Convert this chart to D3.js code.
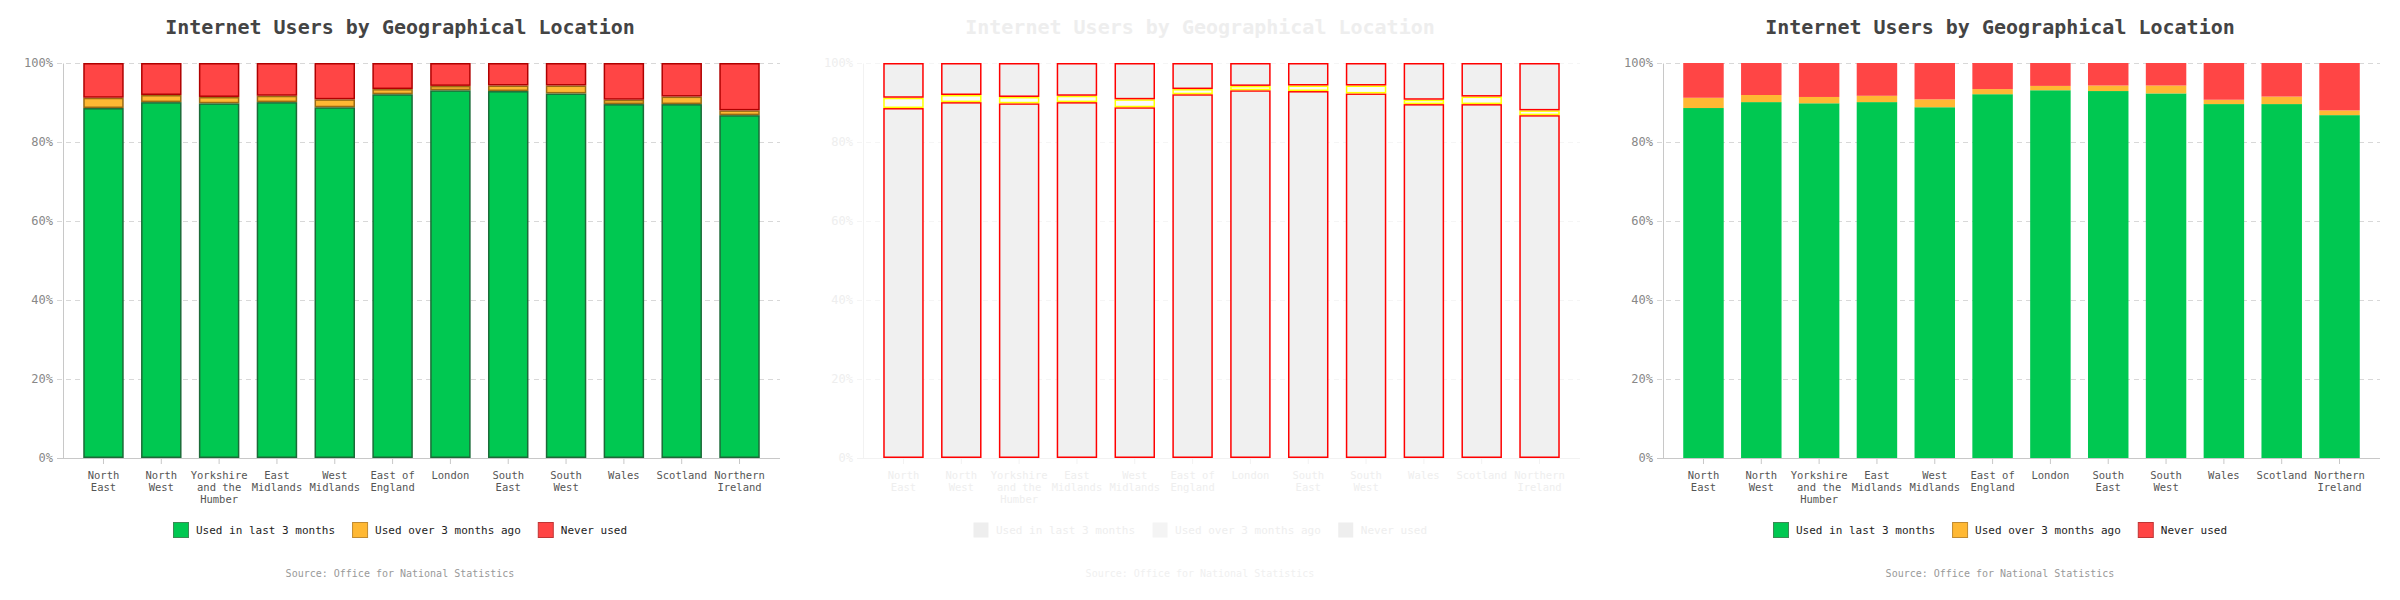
<!DOCTYPE html>
<html>
<head>
<meta charset="utf-8">
<script src="https://cdn.jsdelivr.net/npm/d3@7"></script>
<style>
html,body{margin:0;padding:0;background:#fff;}
svg{display:block;}
text{font-family:"DejaVu Sans Mono","Liberation Mono",monospace;}
</style>
</head>
<body>
<svg id="chart" width="2400" height="600"></svg>
<script>
const title = "Internet Users by Geographical Location";
const regions = ["North East","North West","Yorkshire and the Humber","East Midlands","West Midlands","East of England","London","South East","South West","Wales","Scotland","Northern Ireland"];
const regionLines = [["North","East"],["North","West"],["Yorkshire","and the","Humber"],["East","Midlands"],["West","Midlands"],["East of","England"],["London"],["South","East"],["South","West"],["Wales"],["Scotland"],["Northern","Ireland"]];
const seriesNames = ["Used in last 3 months","Used over 3 months ago","Never used"];
const usedLast3 = [88.6, 90.1, 89.8, 90.1, 88.8, 92.1, 93.1, 92.9, 92.3, 89.6, 89.6, 86.8];
const usedOver3 = [2.6, 1.8, 1.6, 1.6, 2.0, 1.3, 1.1, 1.4, 2.0, 1.1, 1.9, 1.2];
const neverUsed = [8.8, 8.1, 8.6, 8.3, 9.2, 6.6, 5.8, 5.7, 5.7, 9.3, 8.5, 12.0];
const yTicks = [0, 20, 40, 60, 80, 100];
const source = "Source: Office for National Statistics";

const themes = [
  { // normal with strokes
    title:"#444", ytext:"#888", grid:"#d8d8d8", axis:"#c8c8c8", xtext:"#555", legendText:"#222", source:"#999",
    fills:["#00c851","#ffb833","#ff4545"], strokes:["#1b6b38","#9a6a14","#b00000"], sw:1.5,
    legFills:["#00c851","#ffb833","#ff4545"], legStrokes:["#3c8a55","#c08a30","#c03535"], inset:true
  },
  { // ghost
    title:"#eeeeee", ytext:"#eeeeee", grid:"#f5f5f5", axis:"#f2f2f2", xtext:"#eeeeee", legendText:"#eeeeee", source:"#f0f0f0",
    fills:["#f0f0f0","#fbfbfb","#f0f0f0"], strokes:["#ff0000","#ffff00","#ff0000"], sw:1.5,
    legFills:["#eeeeee","#f4f4f4","#eeeeee"], legStrokes:["none","none","none"], inset:true
  },
  { // flat
    title:"#444", ytext:"#888", grid:"#d8d8d8", axis:"#c8c8c8", xtext:"#555", legendText:"#222", source:"#999",
    fills:["#00c851","#ffb833","#ff4545"], strokes:["none","none","none"], sw:0,
    legFills:["#00c851","#ffb833","#ff4545"], legStrokes:["#3c8a55","#c08a30","#c03535"], inset:false
  }
];

const svg = d3.select("#chart");
const pLeft = 63, pRight = 780, pTop = 63, pBottom = 458;

const x = d3.scaleBand().domain(regions).range([pLeft, pRight]).paddingInner(0.3).paddingOuter(0.35);
const y = d3.scaleLinear().domain([0, 100]).range([pBottom, pTop]);

const stackData = regions.map((r, i) => ({region: r, a: usedLast3[i], b: usedOver3[i], c: neverUsed[i]}));
const stacked = d3.stack().keys(["a","b","c"])(stackData);

themes.forEach((th, p) => {
  const g = svg.append("g").attr("transform", `translate(${p*800},0)`);

  g.append("text").attr("x", 400).attr("y", 34).attr("text-anchor", "middle")
    .attr("font-size", 20).attr("font-weight", "bold").attr("fill", th.title).text(title);

  const ya = g.append("g").attr("transform", `translate(${pLeft},0)`)
    .call(d3.axisLeft(y).tickValues(yTicks).tickFormat(d => d + "%").tickSizeInner(-(pRight - pLeft)).tickSizeOuter(0));
  ya.select(".domain").attr("stroke", th.axis);
  ya.selectAll(".tick line").attr("x1", -6).attr("stroke", th.grid).attr("stroke-dasharray", "5,4");
  ya.selectAll(".tick").filter(d => d === 0).select("line").attr("stroke", th.axis).attr("stroke-dasharray", null);
  ya.selectAll(".tick text").attr("x", -10).attr("fill", th.ytext).attr("font-size", 12)
    .attr("font-family", '"DejaVu Sans Mono",monospace');

  stacked.forEach((layer, si) => {
    g.append("g").selectAll("rect").data(layer).join("rect")
      .attr("x", d => x(d.data.region) + (th.inset ? th.sw/2 : 0))
      .attr("y", d => y(d[1]) + (th.inset ? th.sw/2 : 0))
      .attr("width", x.bandwidth() - (th.inset ? th.sw : 0))
      .attr("height", d => Math.max(0, y(d[0]) - y(d[1]) - (th.inset ? th.sw : 0)))
      .attr("fill", th.fills[si])
      .attr("stroke", th.strokes[si])
      .attr("stroke-width", th.sw);
  });

  const xa = g.append("g").attr("transform", `translate(0,${pBottom})`)
    .call(d3.axisBottom(x).tickSize(6).tickSizeOuter(0).tickFormat(""));
  xa.select(".domain").remove();
  xa.selectAll(".tick line").attr("stroke", th.axis);
  g.append("line").attr("x1", pLeft - 6).attr("x2", pRight).attr("y1", pBottom + 0.5).attr("y2", pBottom + 0.5)
    .attr("stroke", th.axis);
  xa.selectAll(".tick").each(function(d, i) {
    const t = d3.select(this).append("text").attr("text-anchor", "middle").attr("fill", th.xtext)
      .attr("font-size", 10.5).attr("font-family", '"DejaVu Sans Mono",monospace');
    regionLines[i].forEach((ln, k) => {
      t.append("tspan").attr("x", 0).attr("y", 21 + k * 12).text(ln);
    });
  });

  const lg = g.append("g");
  const items = seriesNames.map((n, i) => {
    const it = lg.append("g");
    it.append("rect").attr("x", 0.5).attr("y", 522.5).attr("width", 15).attr("height", 15)
      .attr("fill", th.legFills[i]).attr("stroke", th.legStrokes[i]);
    const tx = it.append("text").attr("x", 23).attr("y", 534).attr("font-size", 11)
      .attr("fill", th.legendText).text(n);
    return {it, w: 23 + tx.node().getComputedTextLength()};
  });
  const gap = 17;
  const total = d3.sum(items, d => d.w) + gap * (items.length - 1);
  let cx = 400 - total / 2;
  items.forEach(d => { d.it.attr("transform", `translate(${cx},0)`); cx += d.w + gap; });

  g.append("text").attr("x", 400).attr("y", 577).attr("text-anchor", "middle")
    .attr("font-size", 10).attr("fill", th.source).text(source);
});
</script>
</body>
</html>
